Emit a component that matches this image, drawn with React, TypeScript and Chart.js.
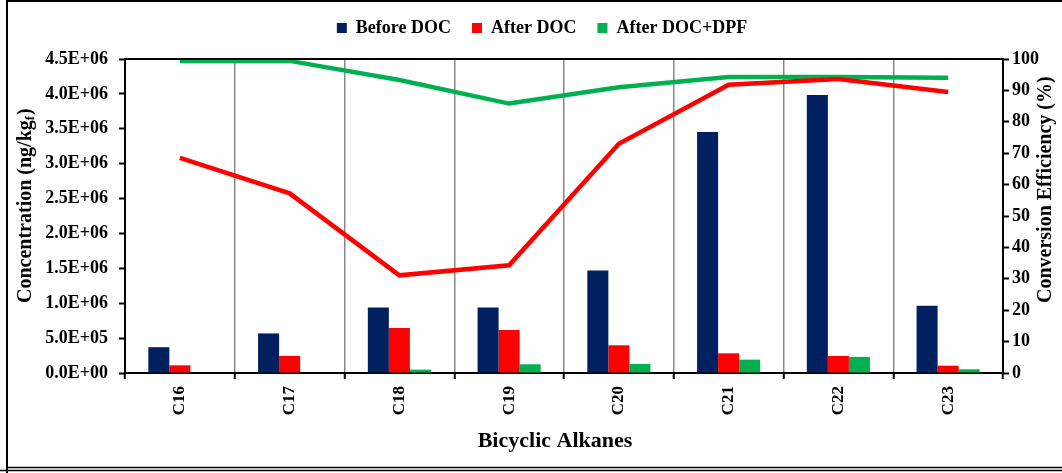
import React, { useEffect, useRef } from "react";
import { Chart, registerables } from "chart.js";

Chart.register(...registerables);

const categories = ["C16", "C17", "C18", "C19", "C20", "C21", "C22", "C23"];
const beforeDoc = [370000, 567000, 937000, 937000, 1470000, 3455000, 3985000, 962000];
const afterDoc = [110000, 245000, 644000, 615000, 397000, 282000, 244000, 105000];
const afterDocDpf = [0, 0, 48000, 125000, 129000, 191000, 230000, 53000];
const effDoc = [68.5, 57.2, 31.1, 34.3, 73.0, 91.8, 93.6, 89.5];
const effDocDpf = [99.4, 99.4, 93.3, 85.8, 91.0, 94.3, 94.3, 94.0];

const leftMax = 4500000;
const leftStep = 500000;
const rightMax = 100;
const rightStep = 10;

const FONT = "'Liberation Serif', 'Times New Roman', serif";

const fmtSci = (v: number) => {
  if (Math.abs(v) < 1e-9) return "0.0E+00";
  const e = Math.floor(Math.log10(v) + 1e-9);
  const m = v / Math.pow(10, e);
  return m.toFixed(1) + "E+" + String(e).padStart(2, "0");
};

const decor = {
  id: "decor",
  beforeInit(chart: any) {
    if (chart.legend) {
      const fit = chart.legend.fit;
      chart.legend.fit = function () {
        fit.call(this);
        this.height += 12;
      };
    }
  },
  afterDraw(chart: any) {
    const { ctx, chartArea: a } = chart;
    ctx.save();
    ctx.strokeStyle = "#000";
    ctx.lineWidth = 2;
    ctx.beginPath();
    ctx.moveTo(a.left - 1, a.top);
    ctx.lineTo(a.right + 1, a.top);
    ctx.stroke();
    // outer frame
    ctx.lineWidth = 2;
    ctx.beginPath();
    ctx.moveTo(7, 473);
    ctx.lineTo(7, 1);
    ctx.lineTo(1062, 1);
    ctx.stroke();
    ctx.lineWidth = 1.5;
    ctx.beginPath();
    ctx.moveTo(7, 467.5);
    ctx.lineTo(1062, 467.5);
    ctx.moveTo(0, 470.5);
    ctx.lineTo(1062, 470.5);
    ctx.stroke();

    ctx.fillStyle = "#000";
    ctx.textBaseline = "middle";
    // x axis title
    ctx.font = `bold 22px ${FONT}`;
    ctx.textAlign = "center";
    ctx.fillText("Bicyclic Alkanes", 555, 441);

    // left axis title with subscript f
    ctx.save();
    ctx.translate(26, 303);
    ctx.rotate(-Math.PI / 2);
    ctx.textAlign = "left";
    ctx.font = `bold 20px ${FONT}`;
    const t1 = "Concentration (ng/kg";
    ctx.fillText(t1, 0, 0);
    const w1 = ctx.measureText(t1).width;
    ctx.font = `bold 13px ${FONT}`;
    ctx.fillText("f", w1, 5);
    const w2 = ctx.measureText("f").width;
    ctx.font = `bold 20px ${FONT}`;
    ctx.fillText(")", w1 + w2 + 1, 0);
    ctx.restore();

    // right axis title
    ctx.save();
    ctx.translate(1046, 303);
    ctx.rotate(-Math.PI / 2);
    ctx.textAlign = "left";
    ctx.font = `bold 20px ${FONT}`;
    ctx.fillText("Conversion Efficiency (%)", 0, 0);
    ctx.restore();
    ctx.restore();
  },
};

export default function App() {
  const ref = useRef<HTMLCanvasElement | null>(null);
  useEffect(() => {
    document.body.style.margin = "0";
    const canvas = ref.current;
    if (!canvas) return;
    const tickFont = { family: FONT, size: 18, weight: "bold" as const };
    const chart = new Chart(canvas, {
      type: "bar",
      data: {
        labels: categories,
        datasets: [
          { label: "Before DOC", data: beforeDoc, backgroundColor: "#002060", yAxisID: "y", order: 1 },
          { label: "After DOC", data: afterDoc, backgroundColor: "#FF0000", yAxisID: "y", order: 1 },
          { label: "After DOC+DPF", data: afterDocDpf, backgroundColor: "#00B050", yAxisID: "y", order: 1 },
          {
            type: "line",
            label: "After DOC efficiency",
            data: effDoc,
            borderColor: "#FF0000",
            backgroundColor: "#FF0000",
            borderWidth: 4.5,
            pointRadius: 0,
            tension: 0,
            yAxisID: "y1",
            order: 0,
            clip: false,
          } as any,
          {
            type: "line",
            label: "After DOC+DPF efficiency",
            data: effDocDpf,
            borderColor: "#00B050",
            backgroundColor: "#00B050",
            borderWidth: 4.5,
            pointRadius: 0,
            tension: 0,
            yAxisID: "y1",
            order: 0,
            clip: false,
          } as any,
        ],
      },
      options: {
        animation: false,
        responsive: false,
        devicePixelRatio: 1,
        layout: { padding: { top: -2, left: 22, right: 0, bottom: 0 } },
        datasets: { bar: { categoryPercentage: 0.575, barPercentage: 1.0 } },
        plugins: {
          tooltip: { enabled: false },
          legend: {
            position: "top",
            labels: {
              filter: (item: any) => item.datasetIndex < 3,
              boxWidth: 10,
              boxHeight: 10,
              padding: 21,
              color: "#000",
              font: { family: FONT, size: 18, weight: "bold" },
            },
          },
        },
        scales: {
          x: {
            offset: true,
            grid: {
              offset: true,
              color: "#888888",
              lineWidth: 1.5,
              drawOnChartArea: true,
              drawTicks: true,
              tickLength: 6,
              tickColor: "#000",
              tickWidth: 2,
            },
            border: { display: true, color: "#000", width: 2 },
            ticks: {
              autoSkip: false,
              minRotation: 90,
              maxRotation: 90,
              padding: 7,
              color: "#000",
              font: { family: FONT, size: 17, weight: "bold" },
            },
            afterFit: (s: any) => {
              s.height = 100;
            },
          },
          y: {
            position: "left",
            min: 0,
            max: leftMax,
            grid: { drawOnChartArea: false, drawTicks: true, tickLength: 6, color: "#000", tickWidth: 2 },
            border: { display: true, color: "#000", width: 2 },
            ticks: {
              stepSize: leftStep,
              padding: 11,
              color: "#000",
              font: tickFont,
              callback: (v: any) => fmtSci(Number(v)),
            },
            afterFit: (s: any) => {
              s.width = 103;
            },
          },
          y1: {
            position: "right",
            min: 0,
            max: rightMax,
            grid: { drawOnChartArea: false, drawTicks: true, tickLength: 6, color: "#000", tickWidth: 2 },
            border: { display: true, color: "#000", width: 2 },
            ticks: {
              stepSize: rightStep,
              padding: 3,
              color: "#000",
              font: tickFont,
            },
            afterFit: (s: any) => {
              s.width = 59;
            },
          },
        },
      } as any,
      plugins: [decor],
    });
    return () => chart.destroy();
  }, []);
  return (
    <div style={{ width: 1062, height: 473, background: "#fff" }}>
      <canvas ref={ref} width={1062} height={473} style={{ width: 1062, height: 473, display: "block" }} />
    </div>
  );
}
